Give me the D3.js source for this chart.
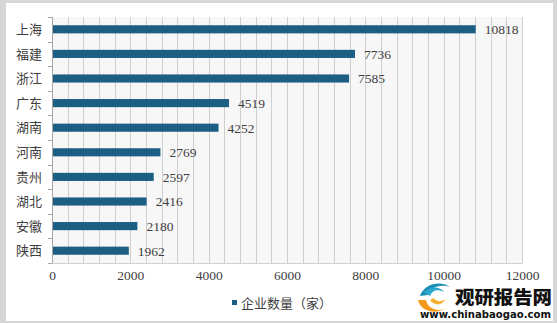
<!DOCTYPE html>
<html>
<head>
<meta charset="utf-8">
<script src="https://cdn.jsdelivr.net/npm/d3@7/dist/d3.min.js"></script>
<style>
  html, body { margin: 0; padding: 0; background: #fff; }
  svg { display: block; }
</style>
</head>
<body>
<svg id="chart" width="557" height="323"></svg>
<script>
// Number of enterprises by province (家)
const provinces = ["上海", "福建", "浙江", "广东", "湖南", "河南", "贵州", "湖北", "安徽", "陕西"];
const counts = [10818, 7736, 7585, 4519, 4252, 2769, 2597, 2416, 2180, 1962];
const xTicks = [0, 2000, 4000, 6000, 8000, 10000, 12000];
const seriesName = "企业数量（家）";

const W = 557, H = 323;
const margin = { left: 52, right: 35, top: 17, bottom: 60 };
const svg = d3.select("#chart");

const cjk = "'Noto Sans CJK SC', 'Noto Sans', sans-serif";
const serif = "'Liberation Serif', 'DejaVu Serif', serif";

// outer frame
svg.append("rect").attr("x", 0).attr("y", 0).attr("width", W).attr("height", H).attr("fill", "#d6d6d6");
svg.append("rect").attr("x", 6).attr("y", 3).attr("width", 547).attr("height", 318).attr("fill", "#ffffff");

const x = d3.scaleLinear().domain([0, 12000]).range([margin.left, W - margin.right]);
const y = d3.scaleBand().domain(provinces).range([margin.top, H - margin.bottom])
  .paddingInner(0.67).paddingOuter(0.335);

// plot background
svg.append("rect")
  .attr("x", x(0)).attr("y", margin.top)
  .attr("width", x(12000) - x(0)).attr("height", H - margin.bottom - margin.top)
  .attr("fill", "#f7f7f7");

// vertical gridlines every 400
const grid = d3.range(400, 12001, 400);
svg.append("g").selectAll("line").data(grid).join("line")
  .attr("x1", d => Math.round(x(d)) + 0.5).attr("x2", d => Math.round(x(d)) + 0.5)
  .attr("y1", margin.top).attr("y2", H - margin.bottom)
  .attr("stroke", "#cfcfcf").attr("stroke-width", 1);

// bars
svg.append("g").selectAll("rect").data(provinces).join("rect")
  .attr("x", x(0))
  .attr("y", d => y(d))
  .attr("width", (d, i) => x(counts[i]) - x(0))
  .attr("height", y.bandwidth())
  .attr("fill", "#1d5f84");

// value labels
svg.append("g").selectAll("text").data(provinces).join("text")
  .attr("x", (d, i) => x(counts[i]) + 9)
  .attr("y", d => y(d) + y.bandwidth() / 2)
  .attr("dy", "0.36em")
  .attr("font-family", serif).attr("font-size", 13.5).attr("fill", "#404040")
  .text((d, i) => counts[i]);

// y axis
const yAxis = svg.append("g").attr("transform", `translate(${x(0)},0)`);
yAxis.append("line").attr("x1", 0.5).attr("x2", 0.5)
  .attr("y1", margin.top).attr("y2", H - margin.bottom).attr("stroke", "#a6a6a6");
const step = y.step();
const bounds = d3.range(provinces.length + 1).map(i => margin.top + i * step);
yAxis.selectAll(".tk").data(bounds).join("line")
  .attr("x1", -4).attr("x2", 0.5)
  .attr("y1", d => Math.round(d) + 0.5).attr("y2", d => Math.round(d) + 0.5)
  .attr("stroke", "#a6a6a6");
yAxis.selectAll("text").data(provinces).join("text")
  .attr("x", -10).attr("y", d => y(d) + y.bandwidth() / 2)
  .attr("dy", "0.36em").attr("text-anchor", "end")
  .attr("font-family", cjk).attr("font-size", 13).attr("fill", "#404040")
  .text(d => d);

// x axis
const xAxis = svg.append("g").attr("transform", `translate(0,${H - margin.bottom})`)
  .call(d3.axisBottom(x).tickValues(xTicks).tickSize(0).tickPadding(7).tickFormat(d3.format("d")));
xAxis.select(".domain").attr("stroke", "#d0d0d0");
xAxis.selectAll("text").attr("font-family", serif).attr("font-size", 13.5).attr("fill", "#404040");

// legend
const lg = svg.append("g").attr("transform", "translate(232,300)");
lg.append("rect").attr("x", 0).attr("y", 0).attr("width", 5).attr("height", 5).attr("fill", "#1d5f84");
lg.append("text").attr("x", 9).attr("y", 3).attr("dy", "0.36em")
  .attr("font-family", cjk).attr("font-size", 13).attr("fill", "#404040").text(seriesName);

// brand mark
const logo = svg.append("g");
logo.append("path")
  .attr("d", "M420,296 C424,284 440,280 450,287 C442,284 430,287 428,295 Z")
  .attr("fill", "#1b8fb5");
logo.append("path")
  .attr("d", "M424,292 C430,286 440,286 444,292 C438,289 432,290 430,296 Z")
  .attr("fill", "#29a7cf");
logo.append("path")
  .attr("d", "M418,300 C420,310 434,316 446,308 C440,312 428,310 426,300 Z")
  .attr("fill", "#f39a1c");
logo.append("path")
  .attr("d", "M430,300 C434,306 442,306 446,299 C442,302 436,302 434,298 Z")
  .attr("fill", "#f6b02f");
logo.append("text").attr("x", 455).attr("y", 304)
  .attr("font-family", cjk).attr("font-weight", 900).attr("font-size", 18)
  .attr("textLength", 97).attr("lengthAdjust", "spacingAndGlyphs")
  .attr("fill", "#111").text("观研报告网");
logo.append("text").attr("x", 420).attr("y", 318)
  .attr("font-family", "'DejaVu Sans', sans-serif").attr("font-weight", "bold").attr("font-size", 10.5)
  .attr("textLength", 131).attr("lengthAdjust", "spacingAndGlyphs")
  .attr("fill", "#111").text("www.chinabaogao.com");
</script>
</body>
</html>
